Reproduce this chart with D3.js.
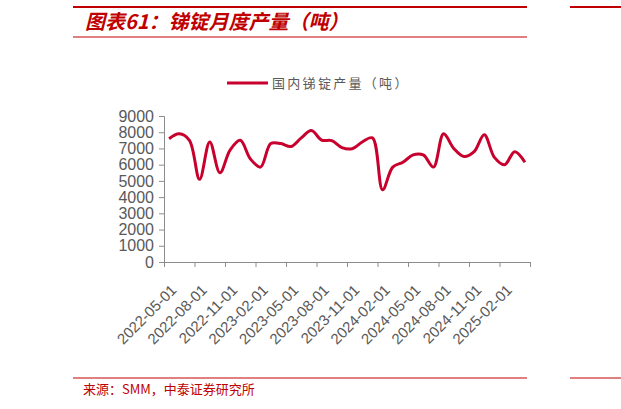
<!DOCTYPE html>
<html><head><meta charset="utf-8">
<script src="https://cdn.jsdelivr.net/npm/d3@7/dist/d3.min.js"></script>
<style>
html,body{margin:0;padding:0;background:#fff;}
svg{display:block;}
</style></head>
<body>
<svg id="c" width="621" height="409"></svg>
<script>
const months = ["2022-05","2022-06","2022-07","2022-08","2022-09","2022-10","2022-11","2022-12",
"2023-01","2023-02","2023-03","2023-04","2023-05","2023-06","2023-07","2023-08","2023-09","2023-10","2023-11","2023-12",
"2024-01","2024-02","2024-03","2024-04","2024-05","2024-06","2024-07","2024-08","2024-09","2024-10","2024-11","2024-12",
"2025-01","2025-02","2025-03","2025-04"];
const output = [7600,7900,7500,5100,7400,5500,6900,7500,6350,5850,7300,7300,7120,7650,8100,7520,7480,7050,6980,7400,
7650,4450,5850,6150,6600,6600,5850,7900,7000,6500,6800,7850,6450,6000,6800,6150];
const tickLabels = ["2022-05-01","2022-08-01","2022-11-01","2023-02-01","2023-05-01","2023-08-01",
"2023-11-01","2024-02-01","2024-05-01","2024-08-01","2024-11-01","2025-02-01",""];
const yTicks = [0,1000,2000,3000,4000,5000,6000,7000,8000,9000];
const seriesName = "国内锑锭产量（吨）";
const title = "图表61：锑锭月度产量（吨）";
const source = "来源：SMM，中泰证券研究所";

const svg = d3.select("#c");
const red = "#c00000";
const lineColor = "#c8002d";
const axisColor = "#8c8c8c";
const textGray = "#595959";

// header rules
svg.append("line").attr("x1",73).attr("x2",527).attr("y1",7).attr("y2",7).attr("stroke",red).attr("stroke-width",2);
svg.append("line").attr("x1",570).attr("x2",621).attr("y1",7).attr("y2",7).attr("stroke",red).attr("stroke-width",2);
svg.append("line").attr("x1",73).attr("x2",527).attr("y1",37).attr("y2",37).attr("stroke",red).attr("stroke-width",1);
svg.append("text").attr("x",85).attr("y",29).text(title)
  .attr("fill",red).attr("font-size",20).attr("font-weight","bold").attr("font-style","italic")
  .attr("font-family","'Noto Sans CJK SC', sans-serif");

// footer
svg.append("line").attr("x1",73).attr("x2",527).attr("y1",378).attr("y2",378).attr("stroke",red).attr("stroke-width",1);
svg.append("line").attr("x1",570).attr("x2",621).attr("y1",378).attr("y2",378).attr("stroke",red).attr("stroke-width",1);
svg.append("text").attr("x",83).attr("y",394).text(source)
  .attr("fill",red).attr("font-size",13)
  .attr("font-family","'Noto Sans CJK SC', sans-serif");

// scales
const x0 = 164, x1 = 530, yBottom = 262, yTop = 116;
const xb = d3.scaleBand().domain(months).range([x0,x1]).padding(0);
const xi = d3.scaleLinear().domain([0,months.length]).range([x0,x1]);
const y = d3.scaleLinear().domain([0,9000]).range([yBottom,yTop]);

// y axis
const ya = svg.append("g").attr("transform",`translate(${x0},0)`)
  .call(d3.axisLeft(y).tickValues(yTicks).tickSize(5).tickPadding(5).tickFormat(d3.format("d")));
ya.select(".domain").attr("stroke",axisColor);
ya.selectAll(".tick line").attr("stroke",axisColor);
ya.selectAll("text").attr("fill",textGray).attr("font-size",16).attr("font-family","'Liberation Sans', Arial, sans-serif");

// x axis
const tickIdx = d3.range(0, months.length+1, 3);
const xa = svg.append("g").attr("transform",`translate(0,${yBottom})`)
  .call(d3.axisBottom(xi).tickValues(tickIdx).tickSize(5).tickSizeOuter(0).tickFormat((d,i)=>tickLabels[i]));
xa.select(".domain").attr("stroke",axisColor);
xa.selectAll(".tick line").attr("stroke",axisColor);
xa.selectAll("text").attr("fill",textGray).attr("font-size",15).attr("font-family","'Liberation Sans', Arial, sans-serif")
  .attr("text-anchor","end").attr("dy",0).attr("y",0)
  .attr("transform","translate(13,29) rotate(-45)");

// line
const line = d3.line().x((d,i)=>xb(months[i])+xb.bandwidth()/2).y(d=>y(d)).curve(d3.curveCatmullRom.alpha(0.5));
svg.append("path").datum(output).attr("d",line).attr("fill","none").attr("stroke",lineColor).attr("stroke-width",3)
  .attr("stroke-linejoin","round");

// legend
svg.append("line").attr("x1",227).attr("x2",268).attr("y1",83).attr("y2",83).attr("stroke",lineColor).attr("stroke-width",3);
svg.append("text").attr("x",272).attr("y",88).text(seriesName).attr("fill",textGray).attr("font-size",13)
  .attr("letter-spacing",2.3).attr("font-family","'Noto Sans CJK SC', sans-serif");
</script>
</body></html>
